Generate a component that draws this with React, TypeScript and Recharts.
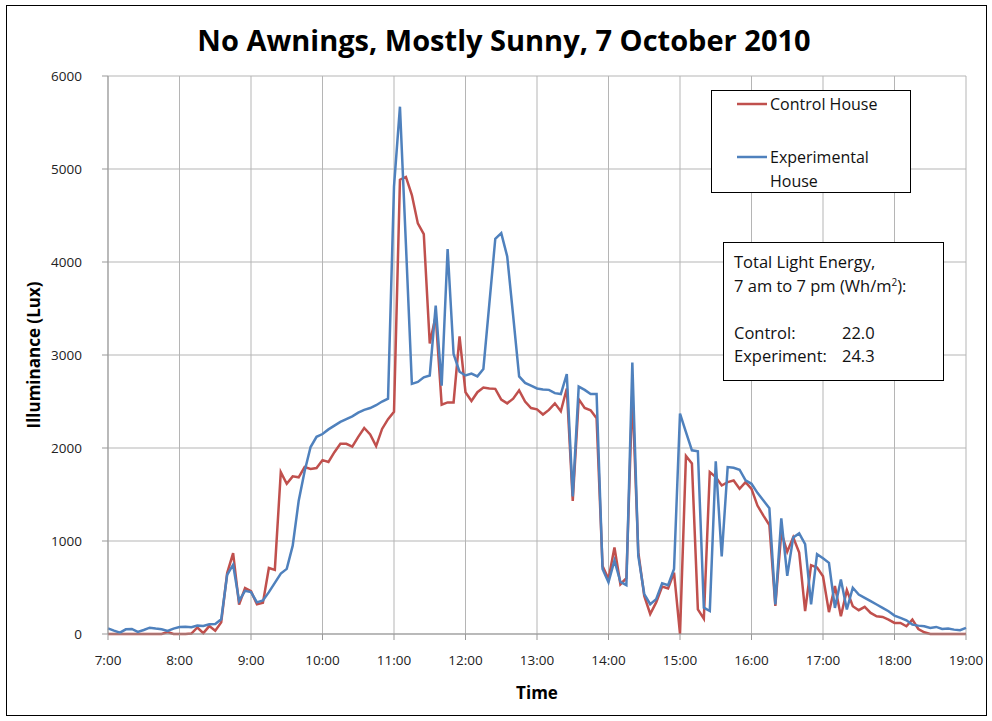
import React from 'react'
import { LineChart, Line, XAxis, YAxis, CartesianGrid, Legend } from 'recharts'

// readings every 5 minutes, 7:00 to 19:00
const HOUR_LABELS = ['7:00', '8:00', '9:00', '10:00', '11:00', '12:00', '13:00', '14:00', '15:00', '16:00', '17:00', '18:00', '19:00']
const Y_TICKS = [0, 1000, 2000, 3000, 4000, 5000, 6000]

const CONTROL = [
  0, 0, 0, 0, 0, 0, 0, 0, 0, 0, 20, 0,
  0, 0, 5, 70, 10, 85, 35, 125, 655, 870, 315, 495,
  460, 320, 335, 710, 690, 1740, 1615, 1695, 1685, 1795, 1775, 1785,
  1870, 1850, 1955, 2045, 2045, 2015, 2120, 2215, 2145, 2020, 2205, 2310,
  2390, 4885, 4915, 4720, 4415, 4300, 3125, 3420, 2465, 2490, 2490, 3200,
  2600, 2505, 2600, 2650, 2640, 2636, 2520, 2480, 2530, 2620, 2500, 2430,
  2415, 2360, 2410, 2480, 2395, 2640, 1430, 2525, 2430, 2405, 2320, 730,
  590, 930, 535, 600, 2600, 880, 410, 215, 340, 510, 490, 660,
  0, 1915, 1835, 265, 164, 1741, 1687, 1597, 1633, 1651, 1561, 1633,
  1561, 1381, 1273, 1172, 301, 1093, 884, 1039, 877, 247, 740, 715,
  620, 235, 515, 191, 472, 299, 256, 292, 227, 191, 184, 155,
  119, 119, 83, 155, 54, 18, 0, 0, 0, 0, 0, 0,
  0,
]

const EXPERIMENT = [
  60, 36, 14, 50, 54, 22, 43, 68, 58, 50, 32, 58,
  76, 79, 72, 90, 86, 104, 108, 158, 637, 745, 356, 464,
  450, 340, 360, 450, 550, 650, 700, 950, 1430, 1750, 2010, 2120,
  2150, 2200, 2240, 2280, 2310, 2340, 2380, 2410, 2430, 2460, 2500, 2530,
  4810, 5670, 4190, 2690, 2710, 2760, 2780, 3530, 2670, 4140, 3010, 2820,
  2780, 2800, 2770, 2850, 3550, 4250, 4310, 4060, 3420, 2770, 2700, 2670,
  2640, 2630, 2625, 2590, 2580, 2795, 1480, 2660, 2625, 2580, 2580, 700,
  555, 790, 560, 525, 2920, 840, 430, 320, 375, 545, 525, 700,
  2370, 2170, 1975, 1964, 283, 247, 1856, 834, 1795, 1788, 1766, 1651,
  1615, 1518, 1435, 1352, 319, 1244, 625, 1039, 1082, 967, 319, 859,
  815, 765, 280, 587, 263, 497, 425, 389, 353, 317, 281, 245,
  198, 173, 148, 101, 90, 83, 65, 76, 54, 58, 47, 40,
  65,
]

const RED = '#c0504d'
const BLUE = '#4f81bd'
const GRID = '#b5b5b5'
const FONT = '"Open Sans", sans-serif'

const rows = CONTROL.map((c, i) => ({ t: i * 5, control: c, experiment: EXPERIMENT[i] }))

function LegendBox({ payload }: any) {
  return (
    <div style={{ position: 'relative', width: 200, height: 103, border: '1px solid #000', background: '#fff', boxSizing: 'border-box', fontFamily: FONT, fontSize: 16, color: '#111' }}>
      {(payload || []).map((p: any, i: number) => (
        <div key={i} style={{ position: 'absolute', left: 25, top: i === 0 ? 1 : 54, display: 'flex', alignItems: 'flex-start' }}>
          <svg width={30} height={22}>
            <line x1={0} y1={12} x2={30} y2={12} stroke={p.color} strokeWidth={2.5} />
          </svg>
          <div style={{ lineHeight: '24px', marginLeft: 3 }}>
            {p.value === 'Control House' ? 'Control House' : <>Experimental<br />House</>}
          </div>
        </div>
      ))}
    </div>
  )
}

export default function App() {
  return (
    <div style={{ position: 'absolute', left: 0, top: 0, width: 992, height: 721, background: '#fff', fontFamily: FONT }}>
      <div style={{ position: 'absolute', left: 6, top: 5, width: 981, height: 711, border: '1px solid #000', boxSizing: 'border-box' }} />
      <div style={{ position: 'absolute', left: 14, top: 20, width: 980, textAlign: 'center', fontSize: 29, fontWeight: 700, color: '#000', lineHeight: '40px' }}>
        No Awnings, Mostly Sunny, 7 October 2010
      </div>
      <div style={{ position: 'absolute', left: 0, top: 0 }}>
        <LineChart width={992} height={721} data={rows} margin={{ top: 76, right: 26, bottom: 0, left: 0 }}>
          <CartesianGrid stroke={GRID} strokeWidth={1} />
          <XAxis
            dataKey="t"
            type="number"
            domain={[0, 720]}
            ticks={HOUR_LABELS.map((_, i) => i * 60)}
            tickFormatter={(v: number) => HOUR_LABELS[v / 60]}
            height={87}
            tickSize={6}
            tickMargin={15}
            stroke="#999"
            tick={{ fill: '#222', fontSize: 13.5, fontFamily: FONT }}
            label={{ value: 'Time', position: 'insideBottom', offset: 22, style: { fontSize: 17, fontWeight: 700, fill: '#000', fontFamily: FONT } }}
          />
          <YAxis
            type="number"
            domain={[0, 6000]}
            ticks={Y_TICKS}
            width={108}
            tickSize={6}
            tickMargin={20}
            stroke="#999"
            tick={{ fill: '#222', fontSize: 13.5, fontFamily: FONT }}
            label={{ value: 'Illuminance (Lux)', angle: -90, position: 'insideLeft', offset: 34, style: { textAnchor: 'middle', fontSize: 17, fontWeight: 700, fill: '#000', fontFamily: FONT } }}
          />
          <Legend
            layout="vertical"
            verticalAlign="middle"
            align="center"
            wrapperStyle={{ left: 711, top: 90, width: 200 }}
            content={<LegendBox />}
          />
          <Line type="linear" dataKey="control" name="Control House" stroke={RED} strokeWidth={2.5} dot={false} isAnimationActive={false} />
          <Line type="linear" dataKey="experiment" name="Experimental House" stroke={BLUE} strokeWidth={2.5} dot={false} isAnimationActive={false} />
        </LineChart>
      </div>
      <div style={{ position: 'absolute', left: 723, top: 242, width: 221, height: 139, border: '1px solid #000', boxSizing: 'border-box', background: '#fff', fontSize: 16.5, color: '#111', padding: '7px 0 0 10px', lineHeight: '23.5px' }}>
        <div>Total Light Energy,</div>
        <div>7 am to 7 pm (Wh/m<sup style={{ fontSize: 10, lineHeight: 0 }}>2</sup>):</div>
        <div>&nbsp;</div>
        <div><span style={{ display: 'inline-block', width: 108 }}>Control:</span>22.0</div>
        <div><span style={{ display: 'inline-block', width: 108 }}>Experiment:</span>24.3</div>
      </div>
    </div>
  )
}
